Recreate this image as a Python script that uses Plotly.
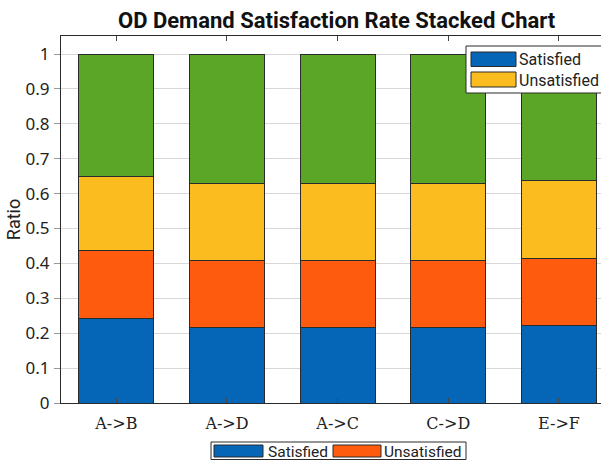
import plotly.graph_objects as go

# OD pairs and the four stacked shares per pair
od_pairs = ["A->B", "A->D", "A->C", "C->D", "E->F"]
satisfied_main = [0.242, 0.215, 0.215, 0.215, 0.221]
unsatisfied_main = [0.194, 0.193, 0.193, 0.193, 0.192]
satisfied_extra = [0.212, 0.222, 0.222, 0.222, 0.225]
remainder = [0.352, 0.370, 0.370, 0.370, 0.362]

y_ticks = [0, 0.1, 0.2, 0.3, 0.4, 0.5, 0.6, 0.7, 0.8, 0.9, 1]
y_tick_text = ["0", "0.1", "0.2", "0.3", "0.4", "0.5", "0.6", "0.7", "0.8", "0.9", "1"]

BLUE = "#0565b7"
ORANGE = "#ff5b0e"
YELLOW = "#fbbc1f"
GREEN = "#5ca627"
EDGE = "#2b2b2b"

W, H = 601, 463
ML, MR, MT, MB = 61, 0, 36, 60
PW, PH = W - ML - MR, H - MT - MB

fig = go.Figure()
for vals, col in [(satisfied_main, BLUE), (unsatisfied_main, ORANGE),
                  (satisfied_extra, YELLOW), (remainder, GREEN)]:
    fig.add_trace(go.Bar(
        x=od_pairs, y=vals, width=0.68, marker_color=col,
        marker_line=dict(color=EDGE, width=1), showlegend=False,
    ))


def px_x(px):
    return (px - ML) / PW


def px_y(py):
    return (H - MB - py) / PH


shapes = []
annotations = []


def box(x0, y0, x1, y1, fill, line_w=1):
    shapes.append(dict(type="rect", xref="paper", yref="paper",
                       x0=px_x(x0), x1=px_x(x1), y0=px_y(y1), y1=px_y(y0),
                       fillcolor=fill, line=dict(color=EDGE, width=line_w),
                       layer="above"))


def label(x, y, text, size=16):
    annotations.append(dict(xref="paper", yref="paper", x=px_x(x), y=px_y(y),
                            text=text, showarrow=False, xanchor="left",
                            yanchor="middle",
                            font=dict(family="Roboto", size=size, color="#222")))


# legend in the upper right corner
box(466, 46, 603, 93, "white")
box(471, 52, 516, 66.5, BLUE)
box(471, 72, 516, 87, YELLOW)
label(517, 59.5, "Satisfied")
label(517, 80, "Unsatisfied")

# legend below the axis
box(211, 442, 466, 459.5, "white")
box(214, 445, 263, 457, BLUE)
box(333, 445, 381, 457, ORANGE)
label(266, 451.5, "Satisfied", 15.5)
label(382, 451.5, "Unsatisfied", 15.5)

annotations.append(dict(xref="paper", yref="paper", x=px_x(337), y=px_y(21),
                        text="<b>OD Demand Satisfaction Rate Stacked Chart</b>",
                        showarrow=False, xanchor="center", yanchor="middle",
                        font=dict(family="Roboto", size=22, color="#111")))

fig.update_layout(
    width=W, height=H,
    margin=dict(l=ML, r=MR, t=MT, b=MB, pad=0),
    barmode="stack", bargap=0.32,
    paper_bgcolor="white", plot_bgcolor="white",
    shapes=shapes, annotations=annotations,
    xaxis=dict(
        range=[-0.5, 4.38], showline=True, linecolor=EDGE, linewidth=1.2,
        mirror="ticks", ticks="inside", ticklen=5, tickcolor="#444",
        showgrid=False, ticklabelstandoff=6,
        tickfont=dict(family="DejaVu Serif", size=16, color="#222"),
    ),
    yaxis=dict(
        range=[0, 1.0516], tickvals=y_ticks, ticktext=y_tick_text,
        showline=True, linecolor=EDGE, linewidth=1.2, mirror=False,
        ticks="outside", ticklen=6, tickcolor="#999", ticklabelstandoff=1,
        showgrid=True, gridcolor="#d8d8d8", gridwidth=1, zeroline=False,
        tickfont=dict(family="Noto Sans", size=17, color="#222"),
        title=dict(text="Ratio", standoff=0,
                   font=dict(family="Roboto", size=18, color="#222")),
    ),
)

fig.write_html("out.html")
